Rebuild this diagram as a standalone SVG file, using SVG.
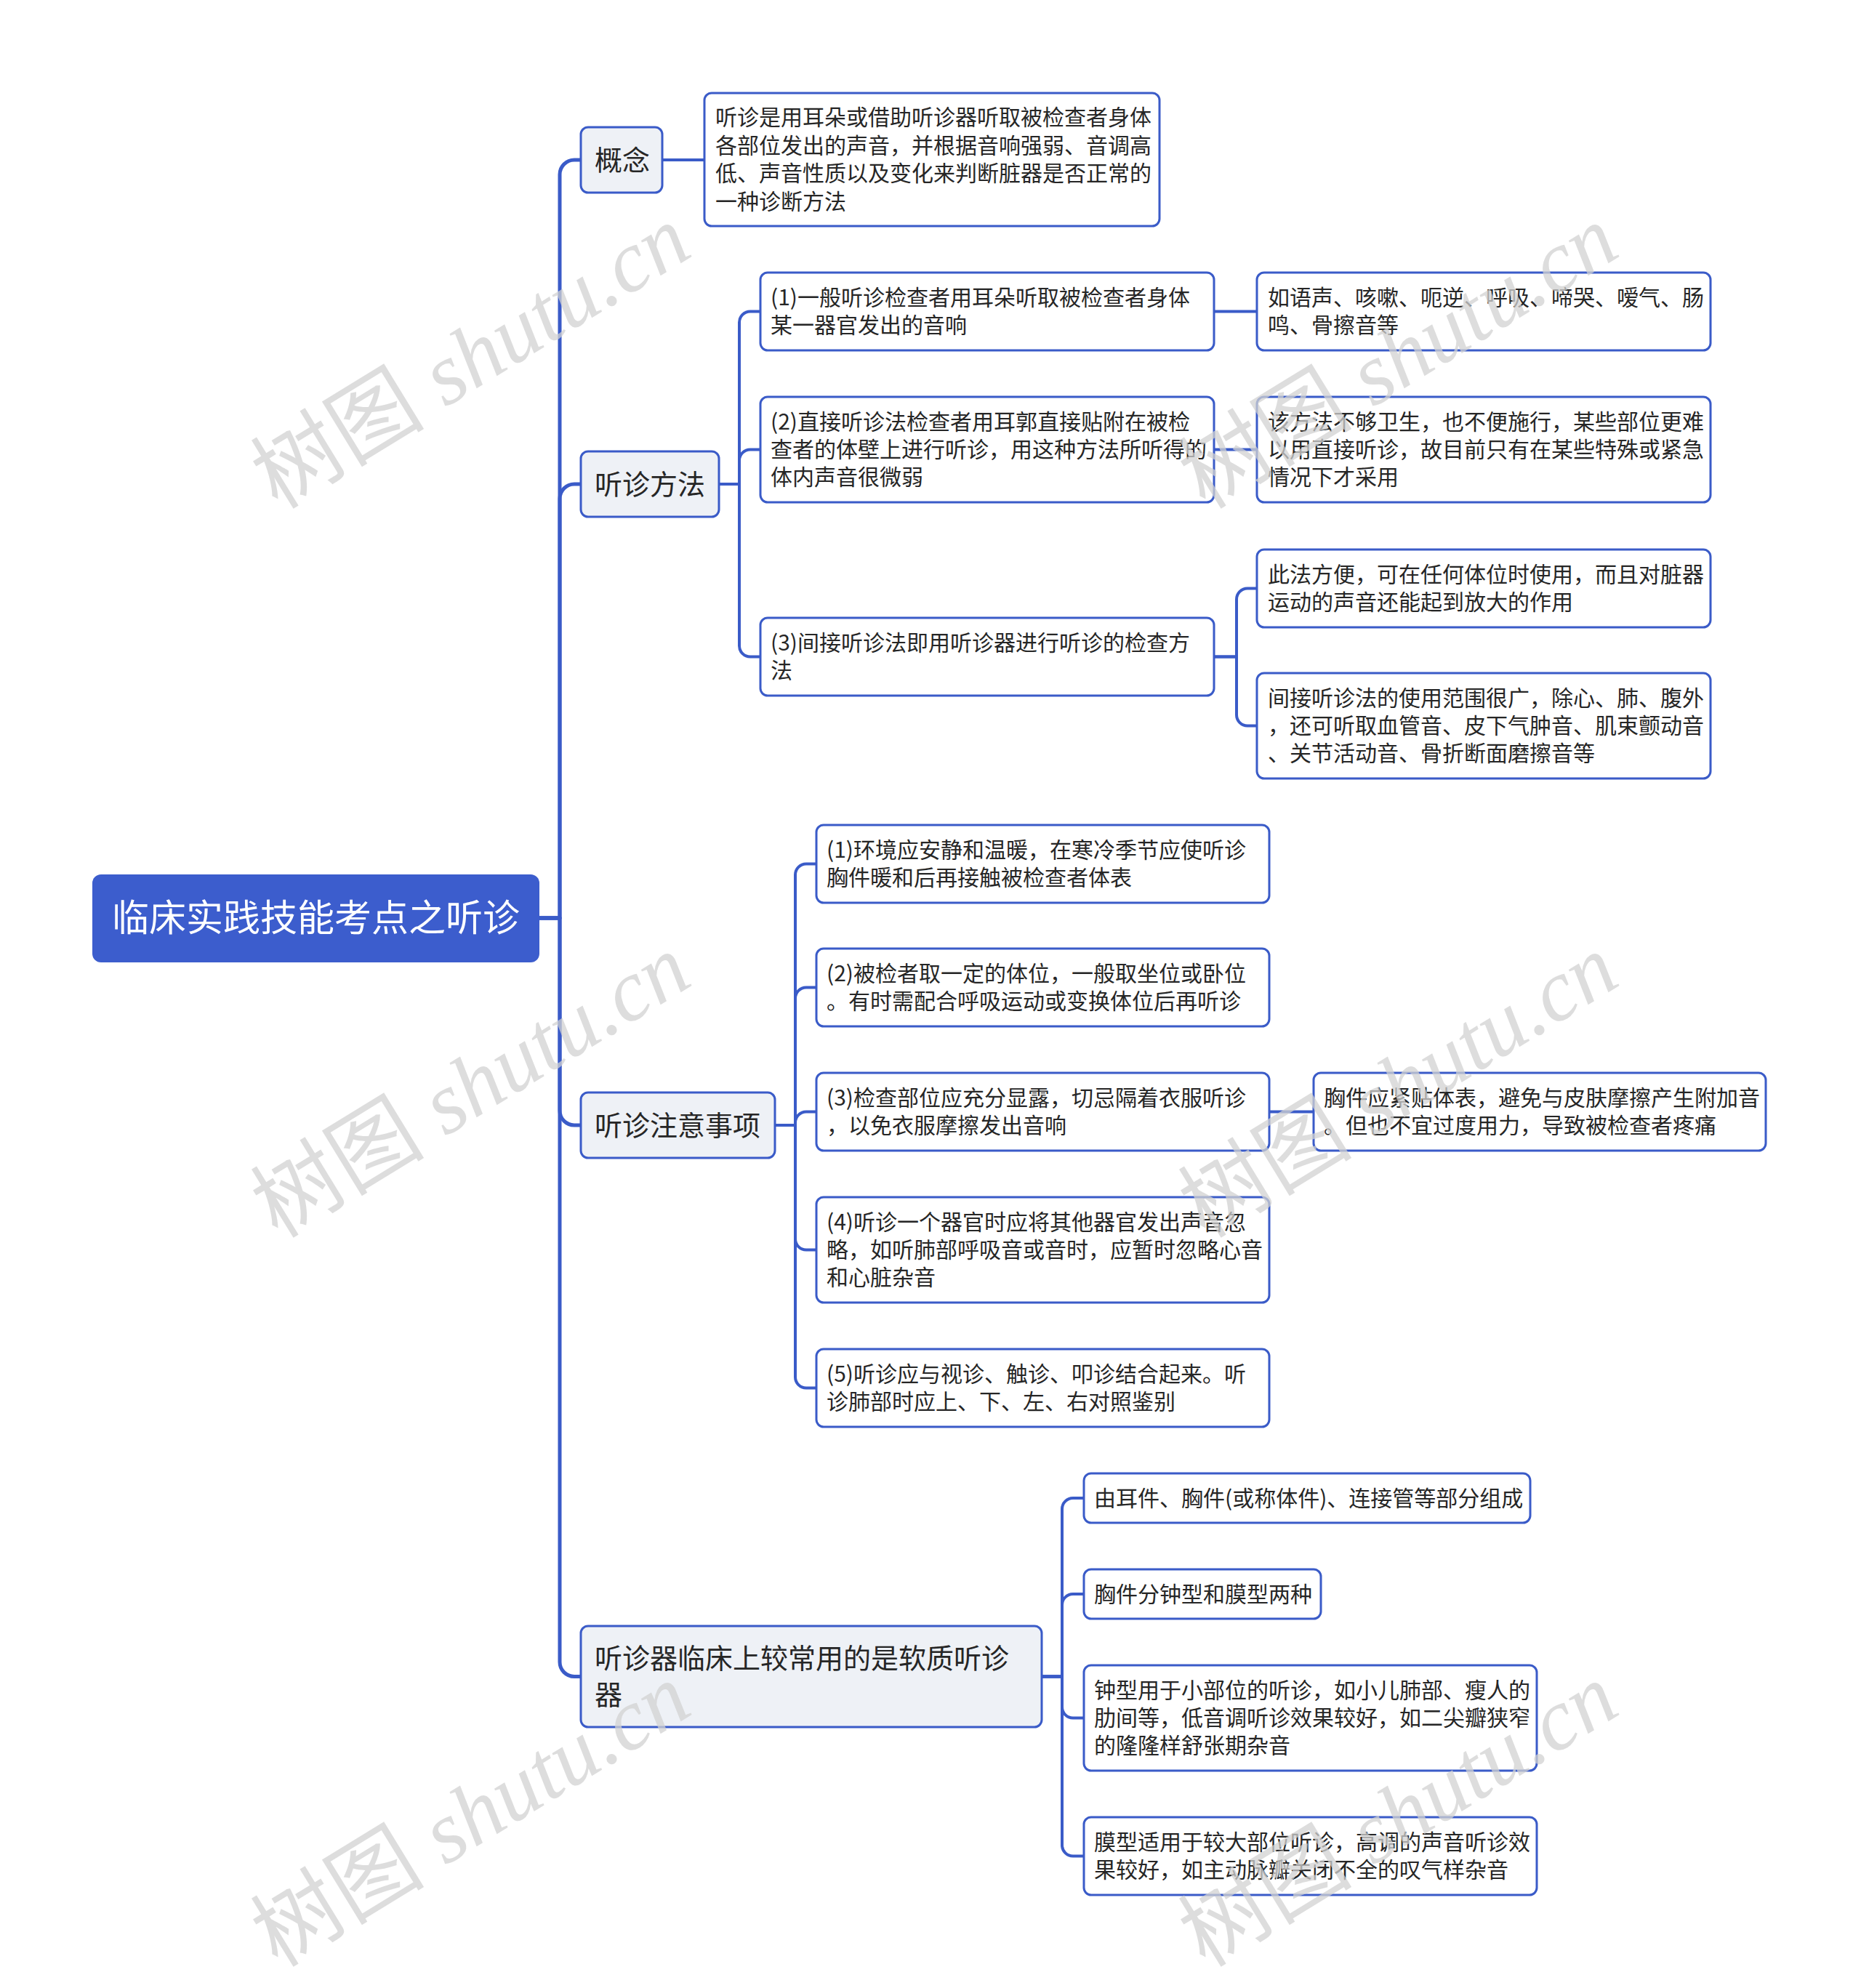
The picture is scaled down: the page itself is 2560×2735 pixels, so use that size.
<svg xmlns="http://www.w3.org/2000/svg" width="2560" height="2735" viewBox="0 0 2560 2735">
<style>
.c{fill:none;stroke:#3a5bc8;stroke-width:4;stroke-linecap:round;stroke-linejoin:round}
.trunk{stroke-width:5}
.l1{fill:#eef1f6;stroke:#3a5bc8;stroke-width:3}
.l2{fill:#ffffff;stroke:#3a5bc8;stroke-width:3}
.t{font-family:"Noto Sans CJK SC","Noto Sans",sans-serif;fill:#262626}
.t30{font-size:30px}
.t38{font-size:38px}
.wm{font-family:"Liberation Serif","Noto Sans CJK SC",serif;font-size:120px;fill:#d2d2d2;fill-opacity:0.75}
</style>
<rect width="2560" height="2735" fill="#ffffff"/>
<g id="connectors">
<path class="c trunk" d="M742 1263 H770 V240 A20 20 0 0 1 790 220 H799"/>
<path class="c trunk" d="M742 1263 H770 V686 A20 20 0 0 1 790 666 H799"/>
<path class="c trunk" d="M742 1263 H770 V1528 A20 20 0 0 0 790 1548 H799"/>
<path class="c trunk" d="M742 1263 H770 V2286.5 A20 20 0 0 0 790 2306.5 H799"/>
<path class="c" d="M911 220 H969"/>
<path class="c" d="M989 666 H1017 V443.5 A15 15 0 0 1 1032 428.5 H1046"/>
<path class="c" d="M989 666 H1017 V633.5 A15 15 0 0 1 1032 618.5 H1046"/>
<path class="c" d="M989 666 H1017 V888.5 A15 15 0 0 0 1032 903.5 H1046"/>
<path class="c" d="M1670 428.5 H1729"/>
<path class="c" d="M1670 618.5 H1729"/>
<path class="c" d="M1670 903.5 H1701 V824.5 A15 15 0 0 1 1716 809.5 H1729"/>
<path class="c" d="M1670 903.5 H1701 V983.5 A15 15 0 0 0 1716 998.5 H1729"/>
<path class="c" d="M1066 1548 H1094 V1203.5 A15 15 0 0 1 1109 1188.5 H1123"/>
<path class="c" d="M1066 1548 H1094 V1373.5 A15 15 0 0 1 1109 1358.5 H1123"/>
<path class="c" d="M1066 1548 H1094 V1544.5 A15 15 0 0 1 1109 1529.5 H1123"/>
<path class="c" d="M1066 1548 H1094 V1704.5 A15 15 0 0 0 1109 1719.5 H1123"/>
<path class="c" d="M1066 1548 H1094 V1894.5 A15 15 0 0 0 1109 1909.5 H1123"/>
<path class="c" d="M1746 1529.5 H1807"/>
<path class="c" d="M1433 2306.5 H1461 V2076 A15 15 0 0 1 1476 2061 H1491"/>
<path class="c" d="M1433 2306.5 H1461 V2208 A15 15 0 0 1 1476 2193 H1491"/>
<path class="c" d="M1433 2306.5 H1461 V2348.5 A15 15 0 0 0 1476 2363.5 H1491"/>
<path class="c" d="M1433 2306.5 H1461 V2538.5 A15 15 0 0 0 1476 2553.5 H1491"/>
</g>
<g id="root">
<rect x="127" y="1203" width="615" height="121" rx="12" fill="#3c5dcd"/>
<text x="434.5" y="1281" text-anchor="middle" font-family="Noto Sans CJK SC, Noto Sans, sans-serif" font-size="51" fill="#ffffff">临床实践技能考点之听诊</text>
</g>
<g id="n-gainian">
<rect class="l1" x="799" y="175" width="112" height="90" rx="10"/>
<text class="t t38" x="818" y="233.5">概念</text>
</g>
<g id="n-gainian-1">
<rect class="l2" x="969" y="128" width="626" height="183" rx="10"/>
<text class="t t30"><tspan x="984" y="172.4">听诊是用耳朵或借助听诊器听取被检查者身体</tspan><tspan x="984" y="210.8">各部位发出的声音，并根据音响强弱、音调高</tspan><tspan x="984" y="249.2">低、声音性质以及变化来判断脏器是否正常的</tspan><tspan x="984" y="287.6">一种诊断方法</tspan></text>
</g>
<g id="n-fangfa">
<rect class="l1" x="799" y="621" width="190" height="90" rx="10"/>
<text class="t t38" x="818" y="679.5">听诊方法</text>
</g>
<g id="n-fangfa-1">
<rect class="l2" x="1046" y="375" width="624" height="107" rx="10"/>
<text class="t t30"><tspan x="1060" y="419.8">(1)一般听诊检查者用耳朵听取被检查者身体</tspan><tspan x="1060" y="458.2">某一器官发出的音响</tspan></text>
</g>
<g id="n-fangfa-2">
<rect class="l2" x="1046" y="546" width="624" height="145" rx="10"/>
<text class="t t30"><tspan x="1060" y="590.6">(2)直接听诊法检查者用耳郭直接贴附在被检</tspan><tspan x="1060" y="629">查者的体壁上进行听诊，用这种方法所听得的</tspan><tspan x="1060" y="667.4">体内声音很微弱</tspan></text>
</g>
<g id="n-fangfa-3">
<rect class="l2" x="1046" y="850" width="624" height="107" rx="10"/>
<text class="t t30"><tspan x="1060" y="894.8">(3)间接听诊法即用听诊器进行听诊的检查方</tspan><tspan x="1060" y="933.2">法</tspan></text>
</g>
<g id="n-fangfa-1-1">
<rect class="l2" x="1729" y="375" width="624" height="107" rx="10"/>
<text class="t t30"><tspan x="1744" y="419.8">如语声、咳嗽、呃逆、呼吸、啼哭、嗳气、肠</tspan><tspan x="1744" y="458.2">鸣、骨擦音等</tspan></text>
</g>
<g id="n-fangfa-2-1">
<rect class="l2" x="1729" y="546" width="624" height="145" rx="10"/>
<text class="t t30"><tspan x="1744" y="590.6">该方法不够卫生，也不便施行，某些部位更难</tspan><tspan x="1744" y="629">以用直接听诊，故目前只有在某些特殊或紧急</tspan><tspan x="1744" y="667.4">情况下才采用</tspan></text>
</g>
<g id="n-fangfa-3-1">
<rect class="l2" x="1729" y="756" width="624" height="107" rx="10"/>
<text class="t t30"><tspan x="1744" y="800.8">此法方便，可在任何体位时使用，而且对脏器</tspan><tspan x="1744" y="839.2">运动的声音还能起到放大的作用</tspan></text>
</g>
<g id="n-fangfa-3-2">
<rect class="l2" x="1729" y="926" width="624" height="145" rx="10"/>
<text class="t t30"><tspan x="1744" y="970.6">间接听诊法的使用范围很广，除心、肺、腹外</tspan><tspan x="1744" y="1009">，还可听取血管音、皮下气肿音、肌束颤动音</tspan><tspan x="1744" y="1047.4">、关节活动音、骨折断面磨擦音等</tspan></text>
</g>
<g id="n-zhuyi">
<rect class="l1" x="799" y="1503" width="267" height="90" rx="10"/>
<text class="t t38" x="818" y="1561.5">听诊注意事项</text>
</g>
<g id="n-zhuyi-1">
<rect class="l2" x="1123" y="1135" width="623" height="107" rx="10"/>
<text class="t t30"><tspan x="1137" y="1179.8">(1)环境应安静和温暖，在寒冷季节应使听诊</tspan><tspan x="1137" y="1218.2">胸件暖和后再接触被检查者体表</tspan></text>
</g>
<g id="n-zhuyi-2">
<rect class="l2" x="1123" y="1305" width="623" height="107" rx="10"/>
<text class="t t30"><tspan x="1137" y="1349.8">(2)被检者取一定的体位，一般取坐位或卧位</tspan><tspan x="1137" y="1388.2">。有时需配合呼吸运动或变换体位后再听诊</tspan></text>
</g>
<g id="n-zhuyi-3">
<rect class="l2" x="1123" y="1476" width="623" height="107" rx="10"/>
<text class="t t30"><tspan x="1137" y="1520.8">(3)检查部位应充分显露，切忌隔着衣服听诊</tspan><tspan x="1137" y="1559.2">，以免衣服摩擦发出音响</tspan></text>
</g>
<g id="n-zhuyi-4">
<rect class="l2" x="1123" y="1647" width="623" height="145" rx="10"/>
<text class="t t30"><tspan x="1137" y="1691.6">(4)听诊一个器官时应将其他器官发出声音忽</tspan><tspan x="1137" y="1730">略，如听肺部呼吸音或音时，应暂时忽略心音</tspan><tspan x="1137" y="1768.4">和心脏杂音</tspan></text>
</g>
<g id="n-zhuyi-5">
<rect class="l2" x="1123" y="1856" width="623" height="107" rx="10"/>
<text class="t t30"><tspan x="1137" y="1900.8">(5)听诊应与视诊、触诊、叩诊结合起来。听</tspan><tspan x="1137" y="1939.2">诊肺部时应上、下、左、右对照鉴别</tspan></text>
</g>
<g id="n-zhuyi-3-1">
<rect class="l2" x="1807" y="1476" width="622" height="107" rx="10"/>
<text class="t t30"><tspan x="1821" y="1520.8">胸件应紧贴体表，避免与皮肤摩擦产生附加音</tspan><tspan x="1821" y="1559.2">。但也不宜过度用力，导致被检查者疼痛</tspan></text>
</g>
<g id="n-tingzhenqi">
<rect class="l1" x="799" y="2237" width="634" height="139" rx="10"/>
<text class="t t38"><tspan x="818" y="2295">听诊器临床上较常用的是软质听诊</tspan><tspan x="818" y="2345">器</tspan></text>
</g>
<g id="n-tingzhenqi-1">
<rect class="l2" x="1491" y="2027" width="614" height="68" rx="10"/>
<text class="t t30" x="1505" y="2071.5">由耳件、胸件(或称体件)、连接管等部分组成</text>
</g>
<g id="n-tingzhenqi-2">
<rect class="l2" x="1491" y="2159" width="326" height="68" rx="10"/>
<text class="t t30" x="1505" y="2203.5">胸件分钟型和膜型两种</text>
</g>
<g id="n-tingzhenqi-3">
<rect class="l2" x="1491" y="2291" width="623" height="145" rx="10"/>
<text class="t t30"><tspan x="1505" y="2335.6">钟型用于小部位的听诊，如小儿肺部、瘦人的</tspan><tspan x="1505" y="2374">肋间等，低音调听诊效果较好，如二尖瓣狭窄</tspan><tspan x="1505" y="2412.4">的隆隆样舒张期杂音</tspan></text>
</g>
<g id="n-tingzhenqi-4">
<rect class="l2" x="1491" y="2500" width="623" height="107" rx="10"/>
<text class="t t30"><tspan x="1505" y="2544.8">膜型适用于较大部位听诊，高调的声音听诊效</tspan><tspan x="1505" y="2583.2">果较好，如主动脉瓣关闭不全的叹气样杂音</tspan></text>
</g>
<g id="watermark">
<text class="wm" transform="translate(382,702) rotate(-31.5)">树图 <tspan font-style="italic">shutu.cn</tspan></text>
<text class="wm" transform="translate(1658,702) rotate(-31.5)">树图 <tspan font-style="italic">shutu.cn</tspan></text>
<text class="wm" transform="translate(382,1705) rotate(-31.5)">树图 <tspan font-style="italic">shutu.cn</tspan></text>
<text class="wm" transform="translate(1658,1705) rotate(-31.5)">树图 <tspan font-style="italic">shutu.cn</tspan></text>
<text class="wm" transform="translate(382,2708) rotate(-31.5)">树图 <tspan font-style="italic">shutu.cn</tspan></text>
<text class="wm" transform="translate(1658,2708) rotate(-31.5)">树图 <tspan font-style="italic">shutu.cn</tspan></text>
</g>
</svg>
